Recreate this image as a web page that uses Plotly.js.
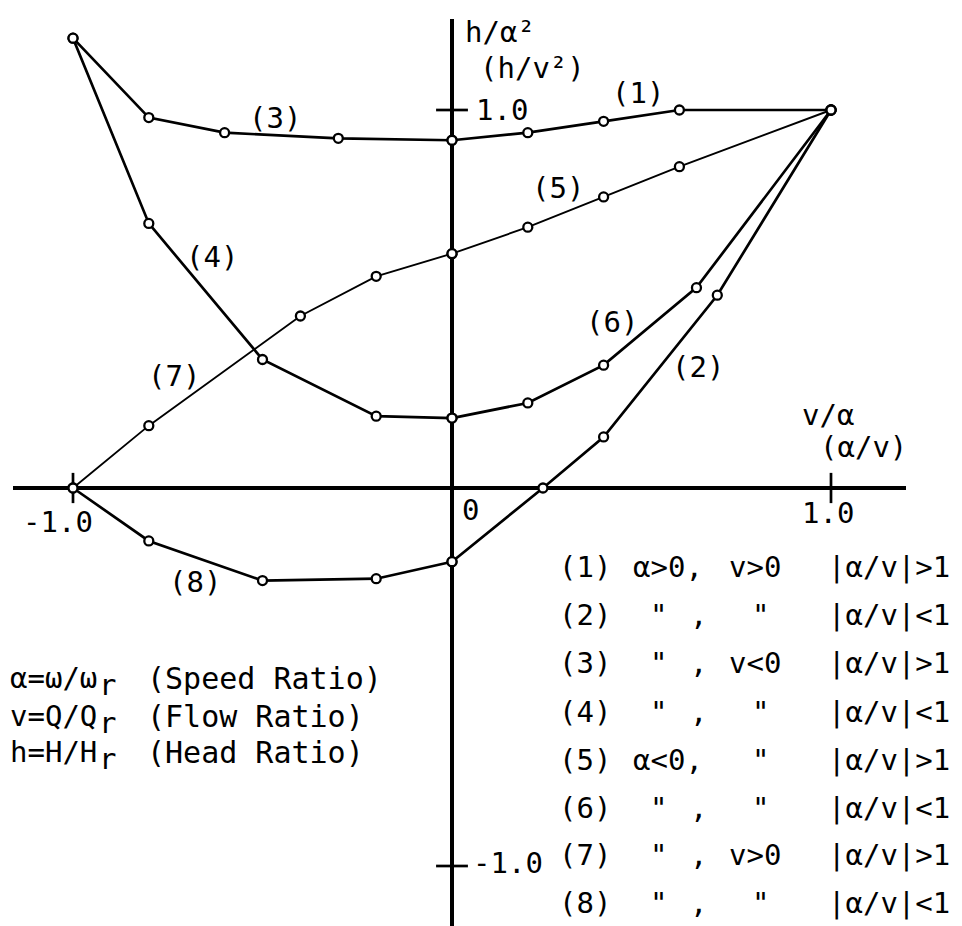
<!DOCTYPE html>
<html>
<head>
<meta charset="utf-8">
<script src="https://cdn.plot.ly/plotly-3.0.1.min.js"></script>
<style>
  html, body { margin: 0; padding: 0; background: #fff; }
  #chart { width: 962px; height: 926px; }
</style>
</head>
<body>
<div id="chart"></div>
<script>
// Pump characteristic curves in the four quadrants: h/α² (h/v²) against v/α (α/v)
const curve1X = [0, 0.2, 0.4, 0.6, 1.0];
const curve1Y = [0.92, 0.94, 0.97, 1.0, 1.0];
const curve2X = [0, 0.24, 0.4, 0.7, 1.0];
const curve2Y = [-0.195, 0, 0.135, 0.51, 1.0];
const curve3X = [0, -0.3, -0.6, -0.8, -1.0];
const curve3Y = [0.92, 0.925, 0.94, 0.98, 1.19];
const curve4X = [-1.0, -0.8, -0.5, -0.2, 0];
const curve4Y = [1.19, 0.70, 0.34, 0.19, 0.185];
const curve5X = [0, 0.2, 0.4, 0.6, 1.0];
const curve5Y = [0.62, 0.69, 0.77, 0.85, 1.0];
const curve6X = [0, 0.2, 0.4, 0.645, 1.0];
const curve6Y = [0.185, 0.225, 0.325, 0.53, 1.0];
const curve7X = [-1.0, -0.8, -0.4, -0.2, 0];
const curve7Y = [0, 0.165, 0.455, 0.56, 0.62];
const curve8X = [-1.0, -0.8, -0.5, -0.2, 0];
const curve8Y = [0, -0.14, -0.245, -0.24, -0.195];

const curveNames = ['(1)', '(2)', '(3)', '(4)', '(5)', '(6)', '(7)', '(8)'];
const tickValues = [-1.0, 1.0];
const tickLabels = ['-1.0', '1.0'];

// legend table: case, sign of α, sign of v, |α/v| condition
const caseAlpha = ['α>0,', '"', '"', '"', 'α<0,', '"', '"', '"'];
const caseFlow = ['v>0', '"', 'v<0', '"', '"', '"', 'v>0', '"'];
const caseRatio = ['|α/v|>1', '|α/v|<1', '|α/v|>1', '|α/v|<1', '|α/v|>1', '|α/v|<1', '|α/v|>1', '|α/v|<1'];

// symbol definitions; the rated-value subscript "r" is set separately
const defSymbols = ['α=ω/ω', 'v=Q/Q', 'h=H/H'];
const defNames = ['(Speed Ratio)', '(Flow Ratio)', '(Head Ratio)'];

// ---- page geometry ----
const FIG_W = 962, FIG_H = 926;
const M = { l: 13, r: 56, t: 19, b: 0 };
const PW = FIG_W - M.l - M.r, PH = FIG_H - M.t - M.b;
const ORIGIN = { x: 452, y: 488 };
const UNIT = { x: 379, y: 378 };
const xRange = [(M.l - ORIGIN.x) / UNIT.x, (FIG_W - M.r - ORIGIN.x) / UNIT.x];
const yRange = [(ORIGIN.y - (FIG_H - M.b)) / UNIT.y, (ORIGIN.y - M.t) / UNIT.y];

const FONT = '"DejaVu Sans Mono", "Liberation Mono", monospace';
const INK = '#000';
const TXT = 29;

function px(x) { return (x - M.l) / PW; }
function py(y) { return 1 - (y - M.t) / PH; }
function label(text, x, y, anchor, size) {
  return {
    xref: 'paper', yref: 'paper', x: px(x), y: py(y),
    xanchor: anchor || 'center', yanchor: 'middle',
    text: text, showarrow: false,
    font: { family: FONT, size: size || TXT, color: INK }
  };
}

const series = [
  [curve1X, curve1Y, 2.7],
  [curve2X, curve2Y, 2.7],
  [curve3X, curve3Y, 2.7],
  [curve4X, curve4Y, 2.7],
  [curve5X, curve5Y, 1.9],
  [curve6X, curve6Y, 2.7],
  [curve7X, curve7Y, 1.9],
  [curve8X, curve8Y, 2.7]
];

const traces = [];
// all lines first, so every open circle sits on top of the lines
series.forEach((s, i) => traces.push({
  type: 'scatter', mode: 'lines', name: curveNames[i],
  x: s[0], y: s[1], line: { color: INK, width: s[2] },
  showlegend: false, hoverinfo: 'skip'
}));
series.forEach((s, i) => traces.push({
  type: 'scatter', mode: 'markers', name: curveNames[i],
  x: s[0], y: s[1],
  marker: { symbol: 'circle', size: 9, color: '#fff', line: { color: INK, width: 2.3 } },
  showlegend: false, hoverinfo: 'skip'
}));

// tick crosses on both axes
const shapes = [];
tickValues.forEach(v => {
  shapes.push({ type: 'line', xref: 'x', yref: 'y', x0: v, x1: v, y0: -0.04, y1: 0.04, layer: 'below', line: { color: INK, width: 2.7 } });
  shapes.push({ type: 'line', xref: 'x', yref: 'y', x0: -0.042, x1: 0.042, y0: v, y1: v, layer: 'below', line: { color: INK, width: 2.7 } });
});

const annotations = [];
// axis titles
annotations.push(label('h/α²', 463, 32, 'left'));
annotations.push(label('(h/v²)', 478, 68, 'left'));
annotations.push(label('v/α', 800, 415, 'left'));
annotations.push(label('(α/v)', 818, 447, 'left'));
// tick labels
annotations.push(label(tickLabels[0], 58, 522));
annotations.push(label(tickLabels[1], 828, 513));
annotations.push(label('0', 470, 510));
annotations.push(label(tickLabels[1], 502, 110));
annotations.push(label(tickLabels[0], 508, 863));
// curve labels
const curveLabelPos = [[638, 93], [698, 367], [275, 118], [212, 257], [558, 188], [612, 322], [174, 376], [195, 582]];
curveLabelPos.forEach((p, i) => annotations.push(label(curveNames[i], p[0], p[1])));
// case table
const rowY = [567, 615, 663, 712, 760, 808, 855, 903];
rowY.forEach((y, i) => {
  annotations.push(label(curveNames[i], 585, y));
  if (caseAlpha[i] === '"') {
    annotations.push(label('"', 658, y));
    annotations.push(label(',', 698, y));
  } else {
    annotations.push(label(caseAlpha[i], 631, y, 'left'));
  }
  if (caseFlow[i] === '"') {
    annotations.push(label('"', 760, y));
  } else {
    annotations.push(label(caseFlow[i], 727, y, 'left'));
  }
  annotations.push(label(caseRatio[i], 826, y, 'left'));
});
// symbol definitions
const defY = [678, 716, 752];
defY.forEach((y, i) => {
  annotations.push(label(defSymbols[i], 8, y, 'left', TXT));
  annotations.push(label('r', 107, y + 7, 'center', TXT));
  annotations.push(label(defNames[i], 145, y, 'left', 30));
});

const axisCommon = {
  showgrid: false, showticklabels: false, ticks: '', showline: false,
  zeroline: true, zerolinecolor: INK, zerolinewidth: 3.6, fixedrange: true
};

const layout = {
  width: FIG_W, height: FIG_H,
  margin: M,
  paper_bgcolor: '#fff', plot_bgcolor: '#fff',
  xaxis: Object.assign({ range: xRange }, axisCommon),
  yaxis: Object.assign({ range: yRange }, axisCommon),
  shapes: shapes,
  annotations: annotations,
  showlegend: false
};

Plotly.newPlot('chart', traces, layout, { displayModeBar: false, staticPlot: true });
</script>
</body>
</html>
